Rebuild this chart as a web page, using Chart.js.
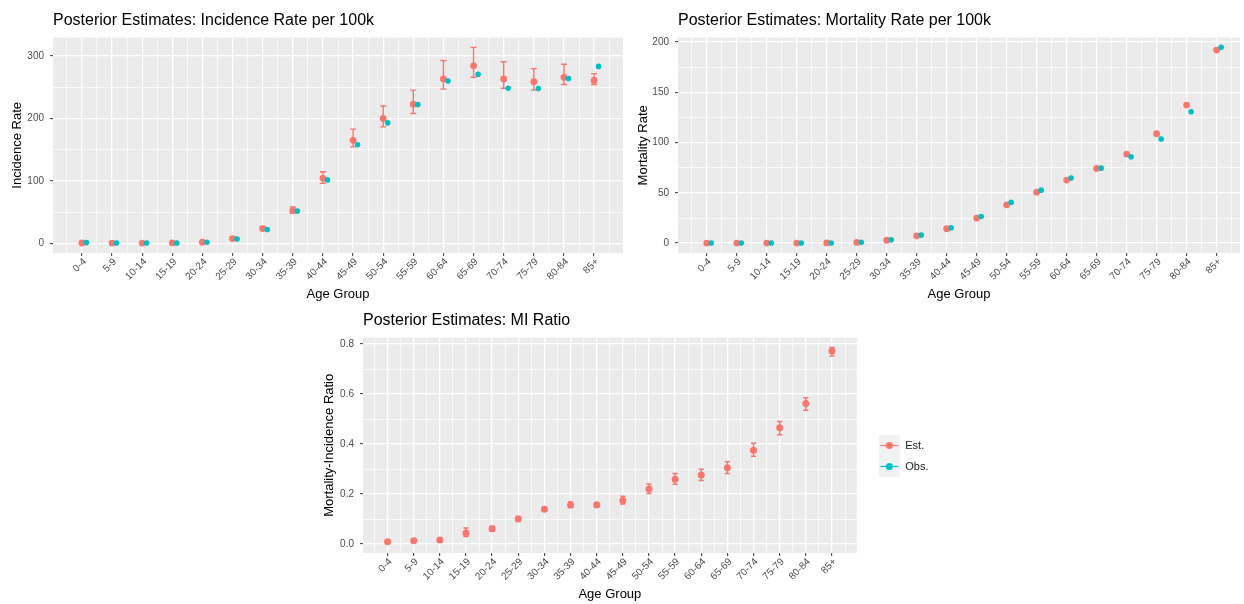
<!DOCTYPE html>
<html>
<head>
<meta charset="utf-8">
<script src="https://cdn.jsdelivr.net/npm/chart.js@4.4.1/dist/chart.umd.min.js"></script>
<style>
  body { margin: 0; background: #fff; width: 1244px; height: 604px; position: relative; overflow: hidden; }
  canvas { position: absolute; }
</style>
</head>
<body>
<canvas id="incChart" width="630" height="302" style="left:0;top:0"></canvas>
<canvas id="mortChart" width="614" height="302" style="left:630px;top:0"></canvas>
<canvas id="miChart" width="640" height="302" style="left:310px;top:300px"></canvas>
<script>
// categories
const ageGroups = ['0-4', '5-9', '10-14', '15-19', '20-24', '25-29', '30-34', '35-39', '40-44',
  '45-49', '50-54', '55-59', '60-64', '65-69', '70-74', '75-79', '80-84', '85+'];

// incidence per 100k (posterior estimate, 95% interval, observed)
const incEst  = [0.3, 0.2, 0.2, 0.4, 1.5, 7.5, 23.5, 52.5, 104, 165, 200, 223, 263.5, 284.5, 263.5, 259, 266, 261];
const incLow  = [0, 0, 0, 0, 0.8, 5.5, 20.5, 48, 96, 154.5, 186.5, 208, 247, 266, 248.5, 245.5, 254.5, 254.5];
const incHigh = [0.8, 0.6, 0.6, 1, 2.5, 10, 27, 58, 114.5, 183, 220, 245.5, 293, 314, 291, 280, 287, 272];
const incObs  = [1.0, 0.3, 0.3, 0.4, 1.6, 6.8, 22, 51.5, 101.5, 158, 193, 222.5, 260, 271, 248.5, 248, 264, 283.5];

// mortality per 100k
const mortEst = [0.1, 0.1, 0.1, 0.1, 0.2, 0.7, 3.0, 7.3, 14.3, 24.9, 38.1, 50.7, 62.7, 74.3, 88.6, 108.8, 137.3, 192];
const mortObs = [0.1, 0.1, 0.1, 0.1, 0.2, 0.9, 3.3, 8.0, 15.3, 26.5, 40.5, 52.7, 64.7, 74.6, 85.9, 103.5, 130.6, 194.7];

// mortality-incidence ratio
const miEst  = [0.009, 0.013, 0.016, 0.044, 0.061, 0.100, 0.139, 0.156, 0.156, 0.174, 0.220, 0.259, 0.276, 0.305, 0.375, 0.465, 0.562, 0.772];
const miLow  = [0.004, 0.007, 0.009, 0.030, 0.052, 0.091, 0.131, 0.146, 0.148, 0.160, 0.202, 0.239, 0.254, 0.282, 0.351, 0.437, 0.535, 0.752];
const miHigh = [0.015, 0.019, 0.024, 0.064, 0.071, 0.110, 0.148, 0.168, 0.166, 0.191, 0.240, 0.282, 0.299, 0.329, 0.403, 0.490, 0.585, 0.787];

const EST_COL = '#F8766D';
const OBS_COL = '#00BFC4';
const DODGE = 0.15;

Chart.defaults.font.family = "'Liberation Sans', Arial, sans-serif";
Chart.defaults.animation = false;

// grey ggplot panel
const panelBg = {
  id: 'panelBg',
  beforeDraw(chart) {
    const { ctx, chartArea: a } = chart;
    ctx.save();
    ctx.fillStyle = '#EBEBEB';
    ctx.fillRect(a.left, a.top, a.right - a.left, a.bottom - a.top);
    ctx.restore();
  }
};

// error bars under the estimate points
const makeErrorBars = (low, high) => ({
  id: 'errorBars',
  beforeDatasetsDraw(chart) {
    const { ctx, scales: { x, y } } = chart;
    ctx.save();
    ctx.strokeStyle = EST_COL;
    ctx.lineWidth = 1.4;
    low.forEach((lo, i) => {
      const px = x.getPixelForValue(i + 1);
      const half = x.getPixelForValue(i + 1.1) - px;
      const y1 = y.getPixelForValue(lo);
      const y2 = y.getPixelForValue(high[i]);
      ctx.beginPath();
      ctx.moveTo(px, y1); ctx.lineTo(px, y2);
      ctx.moveTo(px - half, y1); ctx.lineTo(px + half, y1);
      ctx.moveTo(px - half, y2); ctx.lineTo(px + half, y2);
      ctx.stroke();
    });
    ctx.restore();
  }
});

const toPoints = (vals, shift) => vals.map((v, i) => ({ x: i + 1 + shift, y: v }));

const isMajorX = v => Math.abs(v - Math.round(v)) < 1e-6;

function makeOptions(cfg) {
  const isMajorY = v => Math.abs(v / cfg.yMajor - Math.round(v / cfg.yMajor)) < 1e-6;
  return {
    responsive: false,
    events: [],
    layout: { padding: { left: 0, right: cfg.padRight, top: 0, bottom: 0 } },
    plugins: {
      legend: cfg.legend || { display: false },
      tooltip: { enabled: false },
      title: {
        display: true,
        text: cfg.title,
        align: 'start',
        fullSize: false,
        color: '#000',
        font: { size: 16, weight: 'normal' },
        padding: { top: 11, bottom: 7.4 }
      }
    },
    scales: {
      x: {
        type: 'linear',
        min: cfg.xMin,
        max: cfg.xMax,
        afterBuildTicks(s) {
          const t = [];
          for (let k = 1; k <= ageGroups.length * 2 + 1; k++) t.push({ value: k / 2 });
          s.ticks = t;
        },
        afterFit(s) { s.height = 49; },
        border: { display: false },
        grid: {
          color: '#FFFFFF',
          lineWidth: c => isMajorX(c.tick.value) ? 1.3 : 0.7,
          tickColor: c => isMajorX(c.tick.value) ? '#333333' : 'rgba(0,0,0,0)',
          tickLength: 3,
          tickWidth: 1
        },
        ticks: {
          autoSkip: false,
          minRotation: 45,
          maxRotation: 45,
          padding: 0,
          labelOffset: 3,
          color: '#4D4D4D',
          font: { size: 10 },
          callback: v => isMajorX(v) ? ageGroups[Math.round(v) - 1] : ''
        },
        title: {
          display: true,
          text: 'Age Group',
          color: '#000',
          font: { size: 13 },
          padding: { top: 0, bottom: 0 }
        }
      },
      y: {
        type: 'linear',
        min: cfg.yMin,
        max: cfg.yMax,
        ticks: {
          stepSize: cfg.yMajor / 2,
          includeBounds: false,
          padding: 6,
          color: '#4D4D4D',
          font: { size: 10 },
          callback: v => isMajorY(v) ? cfg.fmt(v) : ''
        },
        afterFit(s) { s.width = cfg.yWidth; },
        border: { display: false },
        grid: {
          color: '#FFFFFF',
          lineWidth: c => isMajorY(c.tick.value) ? 1.3 : 0.7,
          tickColor: c => isMajorY(c.tick.value) ? '#333333' : 'rgba(0,0,0,0)',
          tickLength: 3,
          tickWidth: 1
        },
        title: {
          display: true,
          text: cfg.yTitle,
          color: '#000',
          font: { size: 13 },
          padding: { top: cfg.yTitlePad, bottom: 0 }
        }
      }
    }
  };
}

const estSet = (vals, r) => ({
  label: 'Est.', data: toPoints(vals, 0), order: 1,
  pointRadius: r, pointBackgroundColor: EST_COL, pointBorderWidth: 0, showLine: false
});
const obsSet = (vals) => ({
  label: 'Obs.', data: toPoints(vals, DODGE), order: 0,
  pointRadius: 2.8, pointBackgroundColor: OBS_COL, pointBorderWidth: 0, showLine: false
});

new Chart(document.getElementById('incChart'), {
  type: 'scatter',
  data: { datasets: [estSet(incEst, 3.4), obsSet(incObs)] },
  options: makeOptions({
    title: 'Posterior Estimates: Incidence Rate per 100k',
    yTitle: 'Incidence Rate', yTitlePad: 10, yWidth: 53, padRight: 7,
    xMin: 0.04, xMax: 18.96, yMin: -15.7, yMax: 329.7, yMajor: 100,
    fmt: v => String(Math.round(v))
  }),
  plugins: [panelBg, makeErrorBars(incLow, incHigh)]
});

new Chart(document.getElementById('mortChart'), {
  type: 'scatter',
  data: { datasets: [estSet(mortEst, 3.4), obsSet(mortObs)] },
  options: makeOptions({
    title: 'Posterior Estimates: Mortality Rate per 100k',
    yTitle: 'Mortality Rate', yTitlePad: 5.5, yWidth: 48, padRight: 0,
    xMin: 0.04, xMax: 18.78, yMin: -9.8, yMax: 204.4, yMajor: 50,
    fmt: v => String(Math.round(v))
  }),
  plugins: [panelBg]
});

// legend keys like ggplot: grey square, line and dot
function legendKey(color) {
  const c = document.createElement('canvas');
  c.width = 33; c.height = 21;
  const g = c.getContext('2d');
  g.fillStyle = '#F2F2F2';
  g.fillRect(12, 0, 21, 21);
  g.strokeStyle = color;
  g.lineWidth = 1.2;
  g.beginPath(); g.moveTo(13.5, 10.5); g.lineTo(31.5, 10.5); g.stroke();
  g.fillStyle = color;
  g.beginPath(); g.arc(22.5, 10.5, 3.5, 0, Math.PI * 2); g.fill();
  return c;
}
const legendKeys = [legendKey(EST_COL), legendKey(OBS_COL)];

const miObsSet = obsSet([]);
new Chart(document.getElementById('miChart'), {
  type: 'scatter',
  data: { datasets: [estSet(miEst, 3.5), miObsSet] },
  options: makeOptions({
    title: 'Posterior Estimates: MI Ratio',
    yTitle: 'Mortality-Incidence Ratio', yTitlePad: 12, yWidth: 53, padRight: 11.5,
    xMin: 0.06, xMax: 18.95, yMin: -0.036, yMax: 0.826, yMajor: 0.2,
    fmt: v => v.toFixed(1),
    legend: {
      display: true,
      position: 'right',
      title: { display: true, text: '', font: { size: 4, lineHeight: 1 }, padding: 3 },
      labels: {
        usePointStyle: true,
        pointStyleWidth: 33,
        padding: 10,
        color: '#1A1A1A',
        font: { size: 11 },
        generateLabels: chart => chart.data.datasets.map((d, i) => ({
          text: d.label,
          pointStyle: legendKeys[i],
          fillStyle: 'rgba(0,0,0,0)',
          strokeStyle: 'rgba(0,0,0,0)',
          lineWidth: 0,
          fontColor: '#1A1A1A',
          datasetIndex: i
        }))
      }
    }
  }),
  plugins: [panelBg, makeErrorBars(miLow, miHigh)]
});
</script>
</body>
</html>
